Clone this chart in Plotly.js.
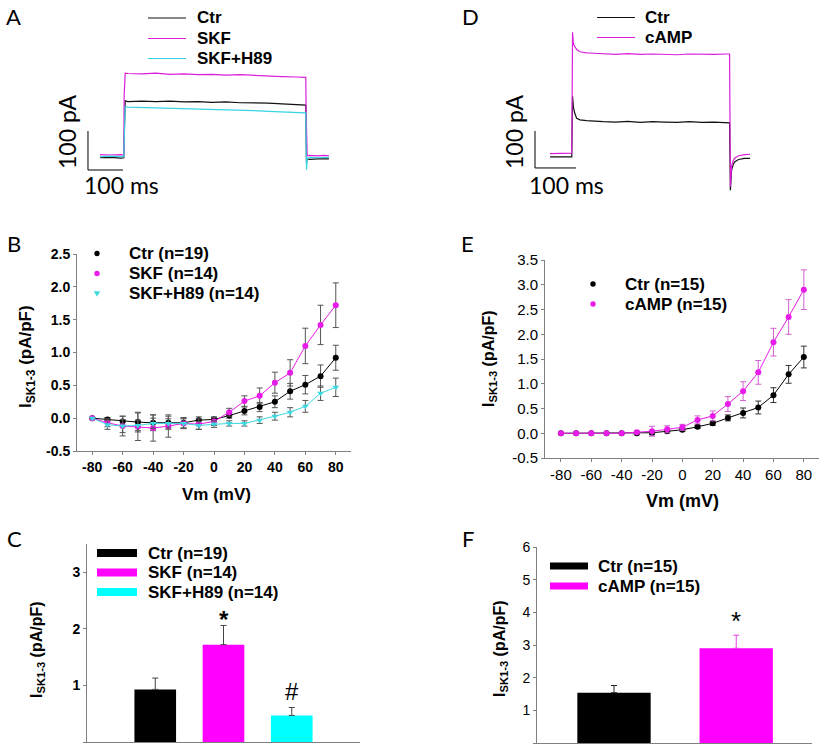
<!DOCTYPE html>
<html>
<head>
<meta charset="utf-8">
<script src="https://cdn.plot.ly/plotly-3.0.1.min.js"></script>
<style>html,body{margin:0;padding:0;background:#fff;}#chart{width:824px;height:748px;}</style>
</head>
<body>
<div id="chart"></div>
<script>
// ---------- DATA ----------
// Panel A: representative current traces (time in ms, current in pA)
const tA   = [0, 30, 60, 68, 69, 70, 72, 80, 120, 160, 200, 240, 280, 320, 360, 400, 440, 480, 520, 560, 586, 588, 589, 590, 592, 600, 620, 640, 654];
const ctrA = [-7, -6, -8, -7, 40, 130, 139, 137, 138, 137, 138, 136, 137, 135, 136, 134, 134, 133, 131, 130, 129, 128, 40, -20, -10, -11, -10, -11, -10];
const skfA = [1, 0, 1, 0, 150, 200, 210, 209, 208, 210, 207, 208, 206, 207, 205, 206, 204, 203, 201, 200, 199, 199, 100, 0, -2, -1, -2, -1, -2];
const h89A = [-4, -3, -4, -4, 30, 110, 124, 123, 122, 121, 120, 120, 118, 118, 117, 116, 114, 112, 111, 109, 108, 108, 20, -38, -8, -6, -7, -6, -6];
const namesA = ['Ctr', 'SKF', 'SKF+H89'];

// Panel D: representative current traces
const tD    = [0, 25, 50, 53, 54, 55, 57, 60, 65, 73, 89, 106, 130, 160, 190, 220, 250, 280, 310, 340, 370, 400, 430, 438, 439, 440, 443, 447, 451, 460, 475, 488];
const ctrD  = [-5, -6, -5, -5, 60, 159, 130, 114, 99, 95, 93, 91, 90, 89, 91, 88, 90, 89, 88, 90, 88, 89, 87, 87, 0, -95, -40, -25, -18, -12, -9, -9];
const campD = [4, 5, 4, 5, 150, 332, 300, 293, 285, 279, 276, 275, 273, 272, 274, 272, 273, 272, 271, 273, 272, 272, 273, 273, 100, -85, -30, -15, -8, -2, 1, 2];
const namesD = ['Ctr', 'cAMP'];

// Scale bars (ms, pA)
const scaleT = 100, scaleI = 100;

// Panel B: I-V (pA/pF)
const vm = [-80, -70, -60, -50, -40, -30, -20, -10, 0, 10, 20, 30, 40, 50, 60, 70, 80];
const ctrB     = [0, -0.02, -0.05, -0.06, -0.07, -0.07, -0.07, -0.03, -0.02, 0.04, 0.11, 0.17, 0.25, 0.41, 0.51, 0.64, 0.92];
const ctrBErr  = [0, 0.03, 0.08, 0.15, 0.12, 0.10, 0.08, 0.05, 0.04, 0.04, 0.06, 0.07, 0.09, 0.12, 0.14, 0.17, 0.19];
const skfB     = [0, -0.07, -0.12, -0.13, -0.15, -0.12, -0.08, -0.09, -0.05, 0.09, 0.26, 0.34, 0.54, 0.69, 1.10, 1.42, 1.72];
const skfBErr  = [0, 0.06, 0.15, 0.21, 0.20, 0.17, 0.08, 0.08, 0.06, 0.06, 0.08, 0.12, 0.16, 0.20, 0.27, 0.30, 0.34];
const h89B     = [0, -0.10, -0.12, -0.11, -0.08, -0.08, -0.08, -0.11, -0.09, -0.08, -0.08, -0.03, 0.03, 0.09, 0.18, 0.38, 0.47];
const h89BErr  = [0, 0.07, 0.10, 0.08, 0.08, 0.07, 0.07, 0.06, 0.05, 0.04, 0.04, 0.05, 0.06, 0.07, 0.09, 0.11, 0.14];
const namesB = ['Ctr (n=19)', 'SKF (n=14)', 'SKF+H89 (n=14)'];

// Panel E: I-V (pA/pF)
const ctrE     = [0, 0, 0, 0, 0, 0, 0.01, 0.04, 0.07, 0.13, 0.20, 0.31, 0.41, 0.52, 0.77, 1.19, 1.54];
const ctrEErr  = [0, 0, 0, 0, 0, 0.03, 0.04, 0.03, 0.03, 0.03, 0.04, 0.06, 0.10, 0.13, 0.15, 0.18, 0.22];
const campE    = [0, 0, 0, 0, 0, 0.02, 0.04, 0.08, 0.12, 0.27, 0.35, 0.59, 0.85, 1.23, 1.84, 2.35, 2.90];
const campEErr = [0, 0, 0, 0, 0, 0.03, 0.10, 0.07, 0.06, 0.08, 0.10, 0.15, 0.19, 0.24, 0.28, 0.35, 0.40];
const namesE = ['Ctr (n=15)', 'cAMP (n=15)'];

// Panel C: bar chart at +80 mV
const catsC = ['Ctr (n=19)', 'SKF (n=14)', 'SKF+H89 (n=14)'];
const valsC = [0.93, 1.72, 0.47];
const errsC = [0.20, 0.34, 0.14];
const sigC  = ['', '*', '#'];

// Panel F: bar chart
const catsF = ['Ctr (n=15)', 'cAMP (n=15)'];
const valsF = [1.54, 2.90];
const errsF = [0.22, 0.40];
const sigF  = ['', '*'];

// Tick labels
const vmTicks = [-80, -60, -40, -20, 0, 20, 40, 60, 80];
const vmTickText = ['-80', '-60', '-40', '-20', '0', '20', '40', '60', '80'];
const bYTicks = [-0.5, 0, 0.5, 1, 1.5, 2, 2.5];
const bYTickText = ['-0.5', '0.0', '0.5', '1.0', '1.5', '2.0', '2.5'];
const eYTicks = [-0.5, 0, 0.5, 1, 1.5, 2, 2.5, 3, 3.5];
const eYTickText = ['-0.5', '0.0', '0.5', '1.0', '1.5', '2.0', '2.5', '3.0', '3.5'];
const cYTicks = [0, 1, 2, 3];
const cYTickText = ['0', '1', '2', '3'];
const fYTicks = [0, 1, 2, 3, 4, 5, 6];
const fYTickText = ['0', '1', '2', '3', '4', '5', '6'];

// ---------- STYLE ----------
const W = 824, H = 748;
const fx = px => px / W;
const fy = py => 1 - py / H;
const ARIAL = 'Liberation Sans, Arial, sans-serif';
const CAL = 'Lato, Open Sans, sans-serif';
const MAG = '#E81CE8', MAGB = '#FF00FF', CYN = '#3ED8E0', CYNB = '#00FFFF', BLK = '#000000';
const yTitle = '<b>I<sub>SK1-3</sub> (pA/pF)</b>';

function ax(o) {
  return Object.assign({
    showgrid: false, zeroline: false, showline: true, linecolor: '#808080', linewidth: 1,
    ticks: 'outside', ticklen: 3, tickcolor: '#808080', tickwidth: 1, fixedrange: true,
    tickmode: 'array'
  }, o);
}

const traces = [];
// Panel A
[[ctrA, '#111111'], [skfA, '#DC1EDC'], [h89A, '#38D4E4']].forEach((d, i) => {
  traces.push({x: tA, y: d[0], name: namesA[i], xaxis: 'x', yaxis: 'y', type: 'scatter', mode: 'lines',
    line: {color: d[1], width: 1.2}, hoverinfo: 'skip'});
});
// Scale bar A
const sbA = {t0: -34.3, i0: -38.5};
traces.push({x: [sbA.t0, sbA.t0, sbA.t0 + scaleT], y: [sbA.i0 + scaleI, sbA.i0, sbA.i0], xaxis: 'x', yaxis: 'y',
  type: 'scatter', mode: 'lines', line: {color: '#000', width: 1}, hoverinfo: 'skip'});

// Panel D
[[ctrD, '#111111'], [campD, '#DC1EDC']].forEach((d, i) => {
  traces.push({x: tD, y: d[0], name: namesD[i], xaxis: 'x2', yaxis: 'y2', type: 'scatter', mode: 'lines',
    line: {color: d[1], width: 1.2}, hoverinfo: 'skip'});
});
const sbD = {t0: -36.6, i0: -35};
traces.push({x: [sbD.t0, sbD.t0, sbD.t0 + scaleT], y: [sbD.i0 + scaleI, sbD.i0, sbD.i0], xaxis: 'x2', yaxis: 'y2',
  type: 'scatter', mode: 'lines', line: {color: '#000', width: 1}, hoverinfo: 'skip'});

// Panel B
[[ctrB, ctrBErr, BLK, 'circle'], [skfB, skfBErr, MAG, 'circle'], [h89B, h89BErr, CYN, 'triangle-down']].forEach((d, i) => {
  traces.push({x: vm, y: d[0], name: namesB[i], xaxis: 'x3', yaxis: 'y3', type: 'scatter', mode: 'lines+markers',
    line: {color: d[2], width: 1}, marker: {color: d[2], size: 6, symbol: d[3]},
    error_y: {type: 'data', array: d[1], visible: true, color: '#555555', thickness: 1, width: 3}});
});

// Panel E
[[ctrE, ctrEErr, BLK, '#333333'], [campE, campEErr, MAG, '#D060D0']].forEach((d, i) => {
  traces.push({x: vm, y: d[0], name: namesE[i], xaxis: 'x4', yaxis: 'y4', type: 'scatter', mode: 'lines+markers',
    line: {color: d[2], width: 1}, marker: {color: d[2], size: 6, symbol: 'circle'},
    error_y: {type: 'data', array: d[1], visible: true, color: d[3], thickness: 1, width: 3}});
});

// Panel C
const colC = [BLK, MAGB, CYNB];
catsC.forEach((c, i) => {
  traces.push({x: [c], y: [valsC[i]], name: c, xaxis: 'x5', yaxis: 'y5', type: 'bar', width: 0.61,
    marker: {color: colC[i], line: {width: 0}},
    error_y: {type: 'data', symmetric: false, array: [errsC[i]], arrayminus: [0], color: '#444444', thickness: 1, width: 3}});
});

// Panel F
const colF = [BLK, MAGB];
const errColF = ['#222222', '#E040E0'];
catsF.forEach((c, i) => {
  traces.push({x: [c], y: [valsF[i]], name: c, xaxis: 'x6', yaxis: 'y6', type: 'bar', width: 0.6,
    marker: {color: colF[i], line: {width: 0}},
    error_y: {type: 'data', symmetric: false, array: [errsF[i]], arrayminus: [0], color: errColF[i], thickness: 1, width: 3}});
});

// ---------- ANNOTATIONS & LEGEND GLYPHS ----------
const ann = [];
const shapes = [];
function txt(t, px, py, o) {
  ann.push(Object.assign({text: t, x: fx(px), y: fy(py), xref: 'paper', yref: 'paper', showarrow: false,
    xanchor: 'center', yanchor: 'middle', font: {family: ARIAL, size: 17, color: '#000'}}, o || {}));
}
// panel letters
[['A', 13, 17], ['D', 470, 17], ['B', 14, 244], ['E', 467, 243], ['C', 15, 538], ['F', 468, 538]].forEach(p => {
  txt(p[0], p[1], p[2], {font: {family: CAL, size: 22, color: '#000'}});
});
// scale bar labels
txt('100 pA', 67, 132, {textangle: -90, font: {family: CAL, size: 23, color: '#000'}});
txt('100 ms', 122, 185, {font: {family: CAL, size: 23, color: '#000'}});
txt('100 pA', 514, 132, {textangle: -90, font: {family: CAL, size: 23, color: '#000'}});
txt('100 ms', 566, 185, {font: {family: CAL, size: 23, color: '#000'}});

// legend A
const legA = [['#111111', 18], ['#DC1EDC', 38.5], ['#38D4E4', 58.5]];
legA.forEach((l, i) => {
  shapes.push({type: 'line', xref: 'paper', yref: 'paper', x0: fx(148), x1: fx(186), y0: fy(l[1]), y1: fy(l[1]), line: {color: l[0], width: 1.2}});
  txt(namesA[i], 195, l[1], {xanchor: 'left', font: {family: ARIAL, size: 17, weight: 'bold', color: '#000'}});
});
// legend D
const legD = [['#111111', 17.5], ['#DC1EDC', 37.5]];
legD.forEach((l, i) => {
  shapes.push({type: 'line', xref: 'paper', yref: 'paper', x0: fx(597), x1: fx(635), y0: fy(l[1]), y1: fy(l[1]), line: {color: l[0], width: 1.2}});
  txt(namesD[i], 643, l[1], {xanchor: 'left', font: {family: ARIAL, size: 17, weight: 'bold', color: '#000'}});
});
// legend B
function dot(px, py, color, r) {
  shapes.push({type: 'circle', xref: 'paper', yref: 'paper', xsizemode: 'pixel', ysizemode: 'pixel',
    xanchor: fx(px), yanchor: fy(py), x0: -r, x1: r, y0: -r, y1: r, fillcolor: color, line: {width: 0}});
}
function tri(px, py, color) {
  shapes.push({type: 'path', xref: 'paper', yref: 'paper', xsizemode: 'pixel', ysizemode: 'pixel',
    xanchor: fx(px), yanchor: fy(py), path: 'M -3.2 2.2 L 3.2 2.2 L 0 -3.2 Z', fillcolor: color, line: {width: 0}});
}
dot(97, 253.5, BLK, 2.7); dot(97, 273.5, MAG, 2.7); tri(97, 293.5, CYN);
[253.5, 273.5, 293.5].forEach((py, i) => txt(namesB[i], 127, py, {xanchor: 'left', font: {family: ARIAL, size: 17, weight: 'bold', color: '#000'}}));
// legend E
dot(593, 284, BLK, 2.7); dot(593, 304, MAG, 2.7);
[284, 304].forEach((py, i) => txt(namesE[i], 623, py, {xanchor: 'left', font: {family: ARIAL, size: 17, weight: 'bold', color: '#000'}}));
// legend C
[553, 572.5, 592].forEach((py, i) => {
  shapes.push({type: 'rect', xref: 'paper', yref: 'paper', x0: fx(97), x1: fx(137), y0: fy(py + 4), y1: fy(py - 4), fillcolor: colC[i], line: {width: 0}});
  txt(catsC[i], 146, py, {xanchor: 'left', font: {family: ARIAL, size: 17, weight: 'bold', color: '#000'}});
});
// legend F
[566, 586].forEach((py, i) => {
  shapes.push({type: 'rect', xref: 'paper', yref: 'paper', x0: fx(550), x1: fx(588), y0: fy(py + 3.5), y1: fy(py - 3.5), fillcolor: colF[i], line: {width: 0}});
  txt(catsF[i], 596, py, {xanchor: 'left', font: {family: ARIAL, size: 17, weight: 'bold', color: '#000'}});
});

// axis titles
txt('<b>Vm (mV)</b>', 216, 494, {font: {family: ARIAL, size: 17, color: '#000'}});
txt('<b>Vm (mV)</b>', 682, 501, {font: {family: ARIAL, size: 18, color: '#000'}});
txt(yTitle, 27, 357, {textangle: -90, font: {family: ARIAL, size: 17, color: '#000'}});
txt(yTitle, 489, 359, {textangle: -90, font: {family: ARIAL, size: 16, color: '#000'}});
txt(yTitle, 37, 650, {textangle: -90, font: {family: ARIAL, size: 16, color: '#000'}});
txt(yTitle, 500, 648, {textangle: -90, font: {family: ARIAL, size: 16, color: '#000'}});

// significance marks
catsC.forEach((c, i) => {
  if (!sigC[i]) return;
  const star = sigC[i] === '*';
  ann.push({text: sigC[i], x: c, y: valsC[i] + errsC[i], xref: 'x5', yref: 'y5', showarrow: false,
    xanchor: 'center', yanchor: 'bottom', yshift: star ? -10 : 0,
    font: {family: ARIAL, size: star ? 24 : 24, weight: star ? 'bold' : 'normal', color: '#000'}});
});
catsF.forEach((c, i) => {
  if (!sigF[i]) return;
  ann.push({text: sigF[i], x: c, y: valsF[i] + errsF[i], xref: 'x6', yref: 'y6', showarrow: false,
    xanchor: 'center', yanchor: 'bottom', yshift: -3,
    font: {family: ARIAL, size: 26, color: '#000'}});
});

const boldTick = {family: ARIAL, size: 14, weight: 'bold', color: '#000'};
const normTick = {family: ARIAL, size: 15, color: '#000'};

const layout = {
  width: W, height: H, margin: {l: 0, r: 0, t: 0, b: 0},
  paper_bgcolor: '#ffffff', plot_bgcolor: 'rgba(0,0,0,0)',
  showlegend: false, barmode: 'overlay', hovermode: false,
  font: {family: ARIAL, color: '#000'},
  // A
  xaxis:  {domain: [fx(80), fx(340)], range: [-57.1, 685.7], visible: false, anchor: 'y', fixedrange: true},
  yaxis:  {domain: [fy(200), fy(20)], range: [-115.4, 346.2], visible: false, anchor: 'x', fixedrange: true},
  // D
  xaxis2: {domain: [fx(520), fx(780)], range: [-73.2, 561], visible: false, anchor: 'y2', fixedrange: true},
  yaxis2: {domain: [fy(200), fy(20)], range: [-121.6, 364.9], visible: false, anchor: 'x2', fixedrange: true},
  // B
  xaxis3: ax({domain: [fx(77), fx(351)], range: [-90, 90], anchor: 'y3', tickvals: vmTicks, ticktext: vmTickText, tickfont: boldTick}),
  yaxis3: ax({domain: [fy(451), fy(254)], range: [-0.5, 2.5], anchor: 'x3', tickvals: bYTicks, ticktext: bYTickText, tickfont: boldTick}),
  // E
  xaxis4: ax({domain: [fx(545), fx(819)], range: [-90.5, 90], anchor: 'y4', tickvals: vmTicks, ticktext: vmTickText, tickfont: normTick}),
  yaxis4: ax({domain: [fy(458), fy(260)], range: [-0.5, 3.5], anchor: 'x4', tickvals: eYTicks, ticktext: eYTickText, tickfont: normTick}),
  // C
  xaxis5: ax({domain: [fx(87), fx(360)], range: [-1, 3], anchor: 'y5', type: 'category', categoryarray: catsC, categoryorder: 'array', ticks: '', showticklabels: false}),
  yaxis5: ax({domain: [fy(742), fy(544)], range: [0, 3.5], anchor: 'x5', tickvals: cYTicks, ticktext: cYTickText, tickfont: boldTick}),
  // F
  xaxis6: ax({domain: [fx(537), fx(812)], range: [-0.63, 1.62], anchor: 'y6', type: 'category', categoryarray: catsF, categoryorder: 'array', ticks: '', showticklabels: false}),
  yaxis6: ax({domain: [fy(743), fy(547)], range: [0, 6], anchor: 'x6', tickvals: fYTicks, ticktext: fYTickText, tickfont: {family: ARIAL, size: 14, color: '#000'}}),
  annotations: ann,
  shapes: shapes
};

Plotly.newPlot('chart', traces, layout, {displayModeBar: false, staticPlot: true});
</script>
</body>
</html>
